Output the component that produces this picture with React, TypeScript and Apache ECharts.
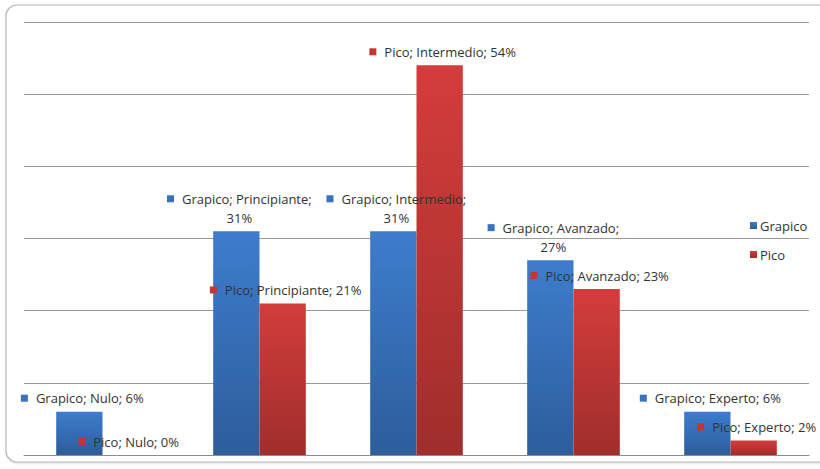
import React, { useEffect, useRef } from "react";
import * as echarts from "echarts";

// Skill levels and the share of each group (percent)
const categories = ["Nulo", "Principiante", "Intermedio", "Avanzado", "Experto"];
const grapicoValues = [6, 31, 31, 27, 6];
const picoValues = [0, 21, 54, 23, 2];
const seriesNames = ["Grapico", "Pico"];
const yTicks = { min: 0, max: 60, interval: 10 };

// Labels that break after the category name
const wrappedLabels: Record<string, string[]> = {
  Grapico: ["Principiante", "Intermedio", "Avanzado"],
  Pico: [],
};

const BLUE_TOP = "#3d7dcc";
const BLUE_BOTTOM = "#2d5d9b";
const RED_TOP = "#d33d3b";
const RED_BOTTOM = "#9f2e2c";
const FONT = "Open Sans";

const grad = (top: string, bottom: string) =>
  new echarts.graphic.LinearGradient(0, 0, 0, 1, [
    { offset: 0, color: top },
    { offset: 1, color: bottom },
  ]);

const makeLabel = (markerColor: string) => ({
  show: true,
  position: "top",
  distance: 4,
  offset: [3, 0],
  fontFamily: FONT,
  fontSize: 13,
  color: "#333333",
  lineHeight: 19,
  formatter: (p: any) => {
    const brk = wrappedLabels[p.seriesName].includes(p.name) ? "\n" : " ";
    return `{m|}{s|}${p.seriesName}; ${p.name};${brk}${p.value}%`;
  },
  rich: {
    m: { width: 7, height: 7, backgroundColor: markerColor },
    s: { width: 8 },
  },
});

export default function App() {
  const ref = useRef<HTMLDivElement>(null);

  useEffect(() => {
    document.body.style.margin = "0";
    const chart = echarts.init(ref.current!, null, { renderer: "svg" });
    chart.setOption({
      animation: false,
      backgroundColor: "#ffffff",
      textStyle: { fontFamily: FONT },
      graphic: [
        {
          type: "rect",
          z: -10,
          silent: true,
          shape: { x: 6, y: 5, width: 840, height: 457, r: 11 },
          style: {
            fill: "#ffffff",
            stroke: "#b8b8b8",
            lineWidth: 1.2,
            shadowBlur: 3,
            shadowColor: "rgba(0,0,0,0.15)",
            shadowOffsetX: 1,
            shadowOffsetY: 1,
          },
        },
      ],
      legend: {
        orient: "vertical",
        left: 745,
        top: 214,
        icon: "rect",
        itemWidth: 7,
        itemHeight: 7,
        itemGap: 16,
        textStyle: { fontFamily: FONT, fontSize: 13, color: "#333333", padding: [0, 0, 0, -2] },
        data: seriesNames,
      },
      grid: { left: 24, right: 11, top: 22, bottom: 14, containLabel: false },
      xAxis: {
        type: "category",
        data: categories,
        axisLine: { show: true, lineStyle: { color: "#8c8c8c", width: 1 } },
        axisTick: { show: false },
        axisLabel: { show: false },
      },
      yAxis: {
        type: "value",
        min: yTicks.min,
        max: yTicks.max,
        interval: yTicks.interval,
        axisLabel: { show: false },
        axisLine: { show: false },
        axisTick: { show: false },
        splitLine: { lineStyle: { color: "#9a9a9a", width: 1 } },
      },
      series: [
        {
          name: seriesNames[0],
          type: "bar",
          data: grapicoValues,
          barGap: "0%",
          barCategoryGap: "41%",
          itemStyle: { color: grad(BLUE_TOP, BLUE_BOTTOM) },
          label: makeLabel("#3a72bd"),
        },
        {
          name: seriesNames[1],
          type: "bar",
          data: picoValues,
          barGap: "0%",
          barCategoryGap: "41%",
          itemStyle: { color: grad(RED_TOP, RED_BOTTOM) },
          label: makeLabel("#c53532"),
        },
      ],
    });
    return () => chart.dispose();
  }, []);

  return (
    <div
      ref={ref}
      style={{ position: "absolute", left: 0, top: 0, width: 820, height: 469 }}
    />
  );
}
